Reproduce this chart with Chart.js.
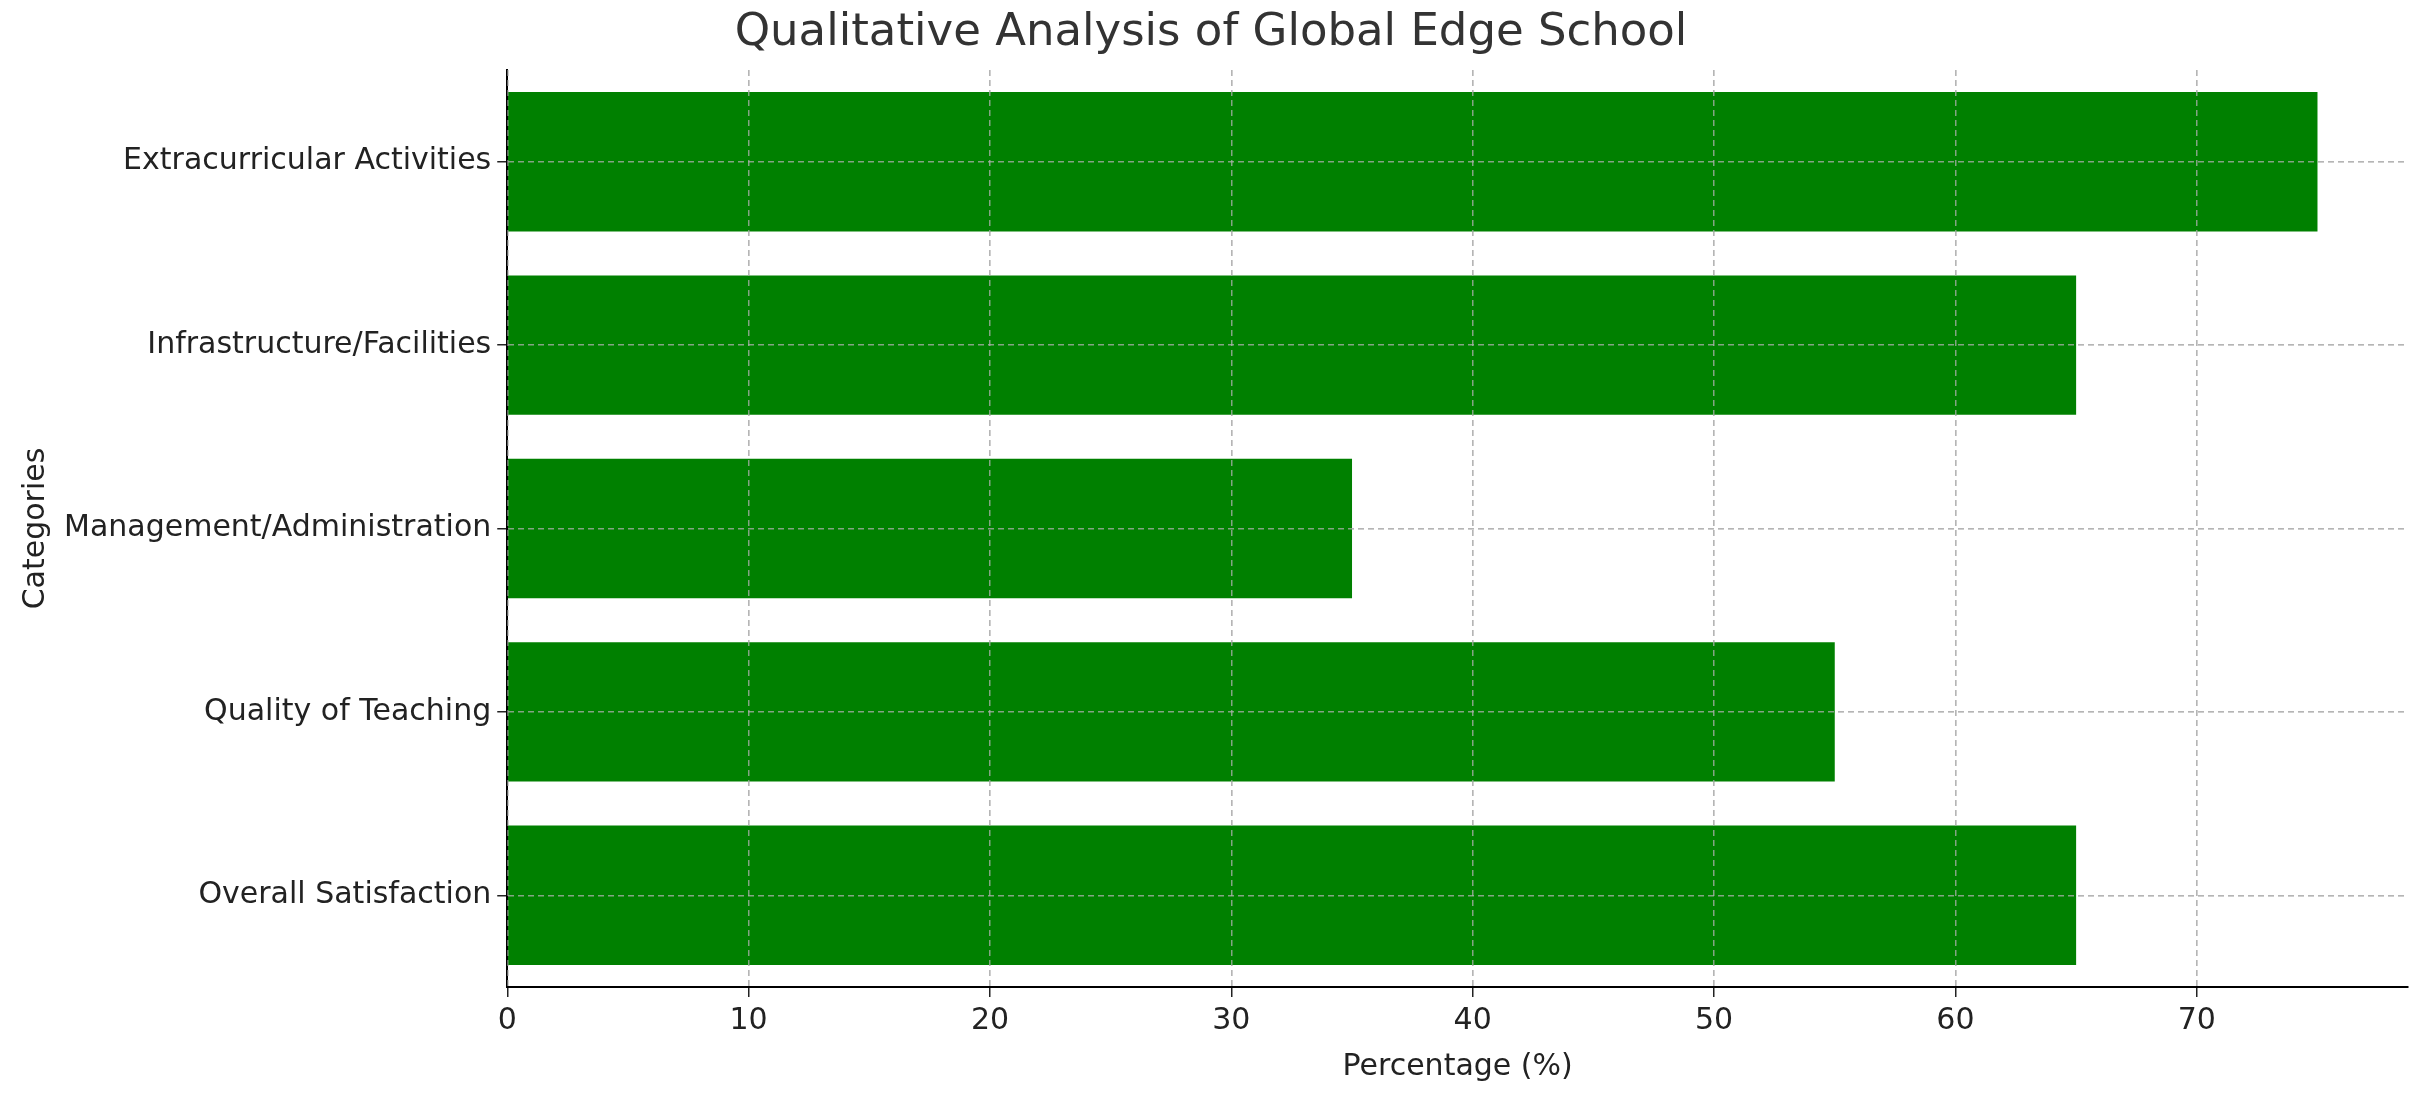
<!DOCTYPE html>
<html>
<head>
<meta charset="utf-8">
<script src="https://cdn.jsdelivr.net/npm/chart.js@4/dist/chart.umd.min.js"></script>
<style>
  html, body { margin: 0; padding: 0; background: #fff; }
  #wrap { width: 2428px; height: 1101px; }
</style>
</head>
<body>
<div id="wrap"><canvas id="chart" width="2428" height="1101"></canvas></div>
<script>
// データ
const categories = ['Extracurricular Activities', 'Infrastructure/Facilities', 'Management/Administration', 'Quality of Teaching', 'Overall Satisfaction'];
const percentages = [75, 65, 35, 55, 65];
const xTicks = [0, 10, 20, 30, 40, 50, 60, 70];

Chart.defaults.font.family = "'DejaVu Sans', sans-serif";
Chart.defaults.color = '#222';

// グリッドを棒の上に描く
const gridOnTop = {
    id: 'gridOnTop',
    afterDatasetsDraw(chart) {
        const area = chart.chartArea;
        const ctx = chart.ctx;
        ctx.save();
        ctx.beginPath();
        ctx.rect(area.left, area.top, area.right - area.left, area.bottom - area.top);
        ctx.clip();
        chart.scales.x.drawGrid(area);
        chart.scales.y.drawGrid(area);
        ctx.restore();
    }
};

const grid = {
    color: 'rgba(176,176,176,0.75)',
    lineWidth: 1.5,
    tickLength: 10,
    tickColor: '#222',
    tickWidth: 1.5
};

new Chart(document.getElementById('chart').getContext('2d'), {
    type: 'bar',
    data: {
        labels: categories,
        datasets: [{
            data: percentages,
            backgroundColor: '#008000',
            barPercentage: 0.8,
            categoryPercentage: 0.95
        }]
    },
    plugins: [gridOnTop],
    options: {
        indexAxis: 'y',
        responsive: false,
        devicePixelRatio: 1,
        animation: false,
        layout: { padding: { left: 14, right: 20, top: 6, bottom: 12 } },
        plugins: {
            legend: { display: false },
            tooltip: { enabled: false },
            title: {
                display: true,
                text: 'Qualitative Analysis of Global Edge School',
                color: '#333',
                font: { size: 45, weight: 'normal' },
                padding: { top: 0, bottom: 10 }
            }
        },
        scales: {
            x: {
                min: 0,
                max: 78.75,
                afterBuildTicks: axis => {
                    axis.ticks = xTicks.map(v => ({ value: v }));
                },
                grid: Object.assign({}, grid),
                border: { display: true, color: '#000', width: 2, dash: [6, 4] },
                ticks: { font: { size: 30 }, color: '#222', padding: 6 },
                title: { display: true, text: 'Percentage (%)', font: { size: 30 }, color: '#222', padding: { top: 4 } }
            },
            y: {
                grid: Object.assign({ offset: false }, grid),
                border: { display: true, color: '#000', width: 2, dash: [6, 4] },
                ticks: { font: { size: 30 }, color: '#222', padding: 6 },
                title: { display: true, text: 'Categories', font: { size: 30 }, color: '#222', padding: { bottom: 4 } }
            }
        }
    }
});
</script>
</body>
</html>
